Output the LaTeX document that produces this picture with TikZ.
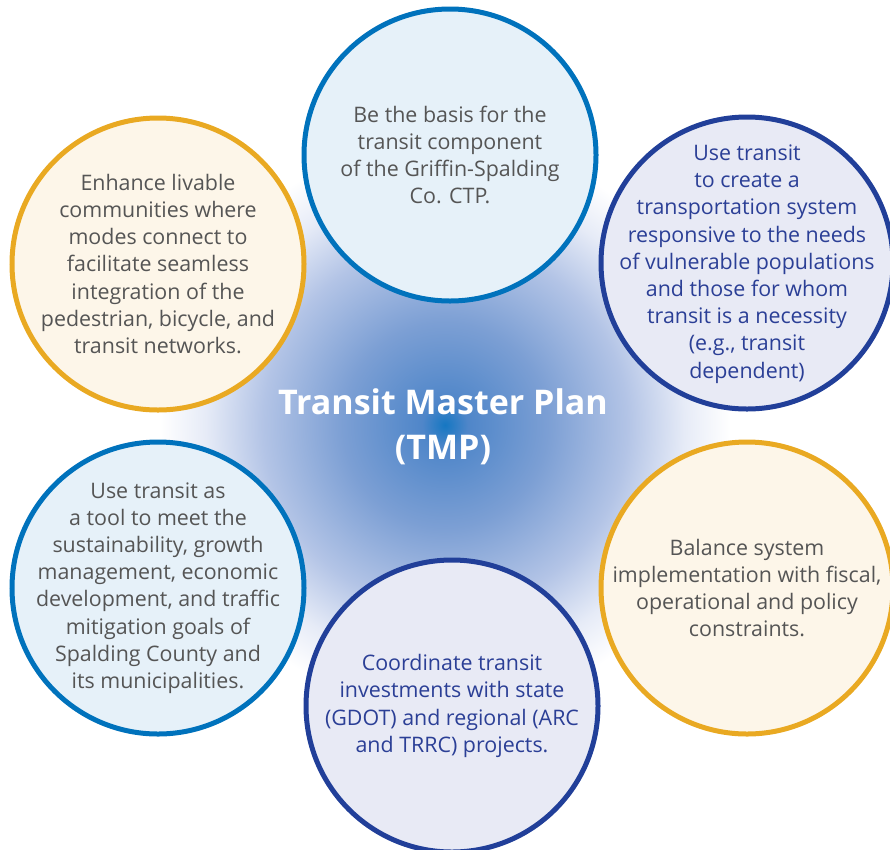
\documentclass[tikz,border=0pt]{standalone}
\usepackage{fontspec}
\setmainfont{Open Sans}
\definecolor{gtext}{HTML}{555555}
\definecolor{btext}{HTML}{2B3F96}
\definecolor{midblue}{HTML}{0072BC}
\definecolor{darkblue}{HTML}{213F99}
\definecolor{gold}{HTML}{E9A922}
\definecolor{fillblue}{HTML}{E6F1F9}
\definecolor{fillnavy}{HTML}{E8EAF5}
\definecolor{fillgold}{HTML}{FDF6E9}
\definecolor{gcA}{HTML}{1577C2}
\definecolor{gcB}{HTML}{4F86C9}
\definecolor{gcC}{HTML}{7C9FD4}
\definecolor{gcD}{HTML}{B3C4E6}
\definecolor{gcE}{HTML}{E6EBF7}
\pgfdeclareradialshading{tmpglow}{\pgfpoint{0bp}{0bp}}{color(0bp)=(gcA); color(2bp)=(gcB); color(9bp)=(gcC); color(16bp)=(gcD); color(21bp)=(gcE); color(25bp)=(white); color(50bp)=(white)}
\tikzset{
  goal/.style={circle, line width=5pt, minimum size=292pt, inner sep=0pt},
  goalblue/.style={goal, draw=midblue, fill=fillblue},
  goalnavy/.style={goal, draw=darkblue, fill=fillnavy},
  goalgold/.style={goal, draw=gold, fill=fillgold},
  gtxt/.style={align=center, text=gtext, font=\fontsize{21.4}{27.2}\selectfont, inner sep=0pt},
  btxt/.style={align=center, text=btext, font=\fontsize{21.4}{27.2}\selectfont, inner sep=0pt},
  titletxt/.style={align=center, text=white, font=\bfseries\fontsize{34}{45}\selectfont, inner sep=0pt}
}
\begin{document}
\begin{tikzpicture}[x=1pt,y=-1pt]
\useasboundingbox (0,0) rectangle (890,849);
\clip (0,0) rectangle (890,849);
\shade[shading=tmpglow] (445,425) circle (285);
\node[goalblue] (top) at (450,155) {};
\node[goalgold] (tl) at (158,264) {};
\node[goalnavy] (tr) at (747,263) {};
\node[goalblue] (bl) at (158,588) {};
\node[goalgold] (br) at (747,588) {};
\node[goalnavy] (bot) at (452,706) {};
\node[gtxt] (ttop) at (top.center) {Be the basis for the\\transit component\\of the Griffin-Spalding\\Co. CTP.};
\node[gtxt] (ttl) at (tl.center) {Enhance livable\\communities where\\modes connect to\\facilitate seamless\\integration of the\\pedestrian, bicycle, and\\transit networks.};
\node[btxt] (ttr) at ([yshift=-1]tr.center) {Use transit\\to create a\\transportation system\\responsive to the needs\\of vulnerable populations\\and those for whom\\transit is a necessity\\(e.g., transit\\dependent)};
\node[gtxt] (tbl) at (bl.center) {Use transit as\\a tool to meet the\\sustainability, growth\\management, economic\\development, and traffic\\mitigation goals of\\Spalding County and\\its municipalities.};
\node[gtxt] (tbr) at (br.center) {Balance system\\implementation with fiscal,\\operational and policy\\constraints.};
\node[btxt] (tbot) at (bot.center) {Coordinate transit\\investments with state\\(GDOT) and regional (ARC\\and TRRC) projects.};
\node[titletxt] (title) at (443,427) {Transit Master Plan\\(TMP)};
\end{tikzpicture}
\end{document}
